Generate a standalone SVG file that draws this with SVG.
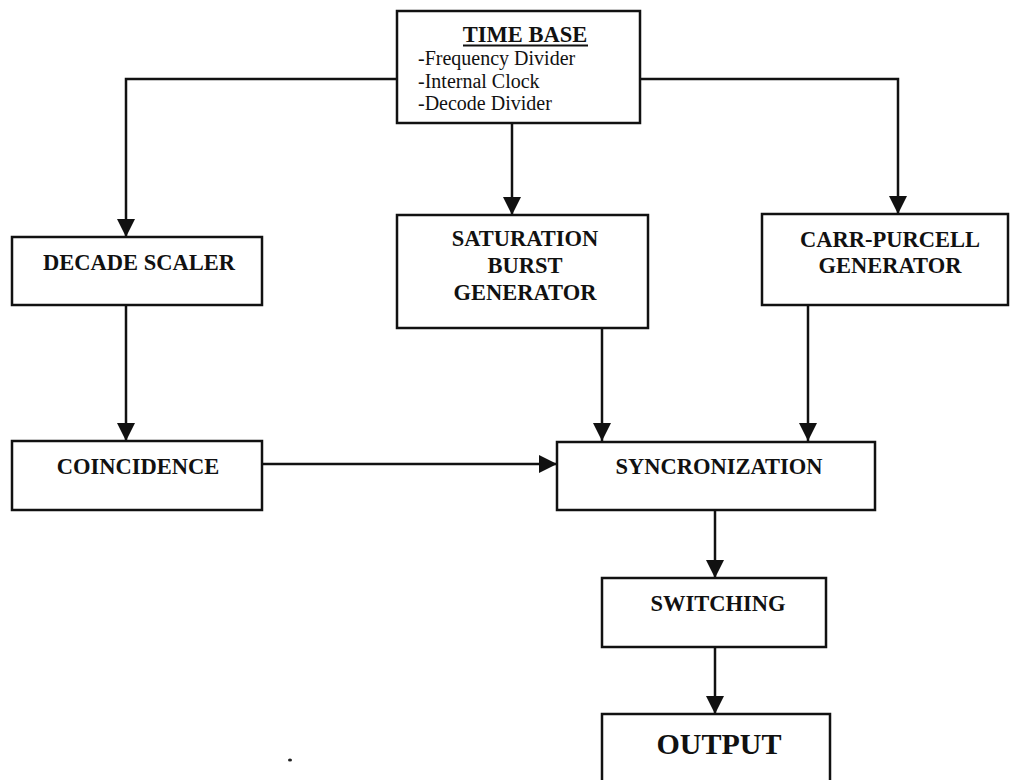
<svg xmlns="http://www.w3.org/2000/svg" width="1010" height="780" viewBox="0 0 1010 780">
<style>
.box{fill:#fff;stroke:#111;stroke-width:2.5}
.lbl{font-family:"Liberation Serif","Times New Roman",serif;font-weight:bold;font-size:22.5px;fill:#111;text-anchor:middle}
.sub{font-family:"Liberation Serif","Times New Roman",serif;font-size:20px;fill:#111}
.wire{fill:none;stroke:#111;stroke-width:2.5}
</style>
<defs>
<marker id="ah" markerWidth="18" markerHeight="18" refX="18" refY="9" orient="auto" markerUnits="userSpaceOnUse">
<path d="M0,0 L18,9 L0,18 Z" fill="#111"/>
</marker>
</defs>
<rect width="1010" height="780" fill="#fff"/>
<g id="connectors">
<path class="wire" d="M397,79 H126 V237" marker-end="url(#ah)"/>
<path class="wire" d="M640,79 H898 V214" marker-end="url(#ah)"/>
<path class="wire" d="M512,123 V215" marker-end="url(#ah)"/>
<path class="wire" d="M126,305 V441" marker-end="url(#ah)"/>
<path class="wire" d="M602,328 V441" marker-end="url(#ah)"/>
<path class="wire" d="M808,305 V441" marker-end="url(#ah)"/>
<path class="wire" d="M262,464 H557" marker-end="url(#ah)"/>
<path class="wire" d="M715,510 V578" marker-end="url(#ah)"/>
<path class="wire" d="M715,647 V714" marker-end="url(#ah)"/>
</g>
<g id="timebase">
<rect class="box" x="397" y="11" width="243" height="112"/>
<text class="lbl" x="525" y="42">TIME BASE</text>
<line x1="463" y1="45.5" x2="588" y2="45.5" stroke="#111" stroke-width="2"/>
<text class="sub" x="418" y="65">-Frequency Divider</text>
<text class="sub" x="418" y="88">-Internal Clock</text>
<text class="sub" x="418" y="110">-Decode Divider</text>
</g>
<g id="decade">
<rect class="box" x="12" y="237" width="250" height="68"/>
<text class="lbl" x="139" y="270">DECADE SCALER</text>
</g>
<g id="saturation">
<rect class="box" x="397" y="215" width="251" height="113"/>
<text class="lbl" x="525" y="246">SATURATION</text>
<text class="lbl" x="525" y="273">BURST</text>
<text class="lbl" x="525" y="300">GENERATOR</text>
</g>
<g id="carrpurcell">
<rect class="box" x="762" y="214" width="246" height="91"/>
<text class="lbl" x="890" y="247">CARR-PURCELL</text>
<text class="lbl" x="890" y="273">GENERATOR</text>
</g>
<g id="coincidence">
<rect class="box" x="12" y="441" width="250" height="69"/>
<text class="lbl" x="138" y="474">COINCIDENCE</text>
</g>
<g id="sync">
<rect class="box" x="557" y="442" width="318" height="68"/>
<text class="lbl" x="719" y="474">SYNCRONIZATION</text>
</g>
<g id="switching">
<rect class="box" x="602" y="578" width="224" height="69"/>
<text class="lbl" x="718" y="611">SWITCHING</text>
</g>
<g id="output">
<rect class="box" x="602" y="714" width="228" height="80"/>
<text class="lbl" x="719" y="754" style="font-size:30px">OUTPUT</text>
</g>
<ellipse cx="290" cy="760" rx="2" ry="1.6" fill="#222"/>
</svg>
